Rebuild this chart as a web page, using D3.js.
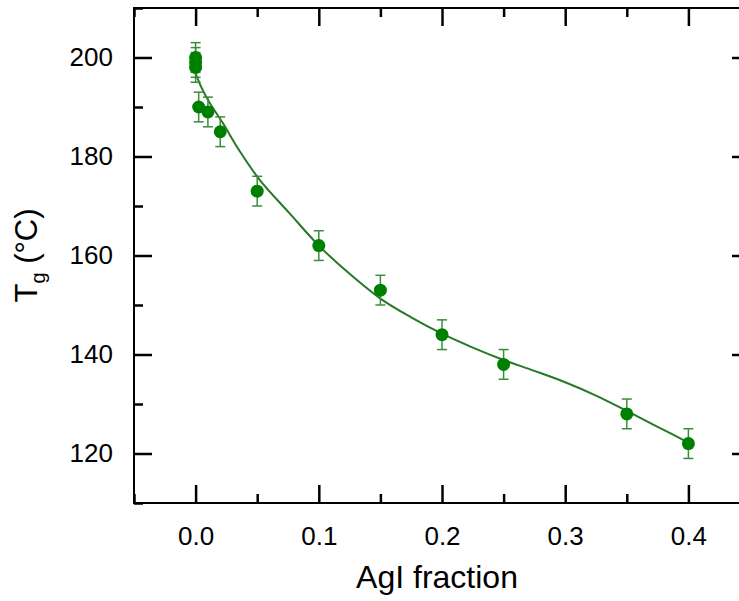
<!DOCTYPE html>
<html>
<head>
<meta charset="utf-8">
<script src="https://cdn.jsdelivr.net/npm/d3@7"></script>
<style>
	body { margin: 0; background: #fff; }
	svg { display: block; overflow: hidden; }
	text { font-family: "Liberation Sans", Arial, sans-serif; fill: #000; }
</style>
</head>
<body>
<svg></svg>
<script>
// measured points
var fraction = [0, 0, 0, 0.0025, 0.01, 0.02, 0.05, 0.1, 0.15, 0.2, 0.25, 0.35, 0.4];
var tg = [200, 199, 198, 190, 189, 185, 173, 162, 153, 144, 138, 128, 122];
var tgErr = [3, 3, 3, 3, 3, 3, 3, 3, 3, 3, 3, 3, 3];

// fitted curve
var fitX = [0, 0.005, 0.011, 0.022, 0.036, 0.052, 0.076, 0.1, 0.125, 0.15, 0.175, 0.2, 0.225, 0.25, 0.275, 0.3, 0.325, 0.35, 0.375, 0.4];
var fitY = [196.8, 193.8, 191, 186.8, 181, 175.3, 168.6, 162, 156.3, 151.3, 147.5, 144.2, 141.4, 138.9, 136.7, 134.4, 131.7, 128.6, 125.4, 122.2];

var xTicks = [0, 0.1, 0.2, 0.3, 0.4];
var xMinor = [-0.05, 0.05, 0.15, 0.25, 0.35, 0.45];
var yTicks = [120, 140, 160, 180, 200];
var yMinor = [110, 130, 150, 170, 190, 210];

var width = 739, height = 601;
var margins = { left: 134, right: -11, top: 8, bottom: 98 };
var w = width - margins.left - margins.right;
var h = height - margins.top - margins.bottom;

var svg = d3.select("svg")
	.attr("width", width)
	.attr("height", height);

var x = d3.scaleLinear().domain([-0.05, 0.45]).range([margins.left, margins.left + w]);
var y = d3.scaleLinear().domain([110, 210]).range([margins.top + h, margins.top]);

var x0 = margins.left, x1 = margins.left + w, y0 = margins.top, y1 = margins.top + h;

// frame
svg.append("rect")
	.attr("x", x0).attr("y", y0)
	.attr("width", w).attr("height", h)
	.attr("fill", "none")
	.attr("stroke", "#000")
	.attr("stroke-width", 2);

function styleAxis(g) {
	g.select(".domain").remove();
	g.selectAll(".tick line").attr("stroke", "#000").attr("stroke-width", 2.5);
	g.selectAll("text").style("font-size", "26px").attr("fill", "#000");
}

// bottom
svg.append("g")
	.attr("transform", "translate(0," + y1 + ")")
	.call(d3.axisBottom(x).tickValues(xTicks).tickFormat(d3.format(".1f")).tickSizeInner(-18).tickSizeOuter(0).tickPadding(24))
	.call(styleAxis);
svg.append("g")
	.attr("transform", "translate(0," + y1 + ")")
	.call(d3.axisBottom(x).tickValues(xMinor).tickFormat("").tickSizeInner(-9).tickSizeOuter(0))
	.call(styleAxis);
// top
svg.append("g")
	.attr("transform", "translate(0," + y0 + ")")
	.call(d3.axisTop(x).tickValues(xTicks).tickFormat("").tickSizeInner(-18).tickSizeOuter(0))
	.call(styleAxis);
svg.append("g")
	.attr("transform", "translate(0," + y0 + ")")
	.call(d3.axisTop(x).tickValues(xMinor).tickFormat("").tickSizeInner(-9).tickSizeOuter(0))
	.call(styleAxis);
// left
svg.append("g")
	.attr("transform", "translate(" + x0 + ",0)")
	.call(d3.axisLeft(y).tickValues(yTicks).tickSizeInner(-18).tickSizeOuter(0).tickPadding(21))
	.call(styleAxis);
svg.append("g")
	.attr("transform", "translate(" + x0 + ",0)")
	.call(d3.axisLeft(y).tickValues(yMinor).tickFormat("").tickSizeInner(-9).tickSizeOuter(0))
	.call(styleAxis);
// right
svg.append("g")
	.attr("transform", "translate(" + x1 + ",0)")
	.call(d3.axisRight(y).tickValues(yTicks).tickFormat("").tickSizeInner(-18).tickSizeOuter(0))
	.call(styleAxis);
svg.append("g")
	.attr("transform", "translate(" + x1 + ",0)")
	.call(d3.axisRight(y).tickValues(yMinor).tickFormat("").tickSizeInner(-9).tickSizeOuter(0))
	.call(styleAxis);

// fit line
var fit = fitX.map((d, i) => [d, fitY[i]]);
svg.append("path")
	.datum(fit)
	.attr("fill", "none")
	.attr("stroke", "#267a26")
	.attr("stroke-width", 2)
	.attr("d", d3.line().x(d => x(d[0])).y(d => y(d[1])).curve(d3.curveCatmullRom.alpha(0.5)));

var pts = fraction.map((d, i) => ({ x: d, y: tg[i], e: tgErr[i] }));

// error bars
var eb = svg.append("g").attr("stroke", "#3d8c3d").attr("stroke-width", 1.5);
eb.selectAll(".v").data(pts).enter().append("line")
	.attr("x1", d => x(d.x)).attr("x2", d => x(d.x))
	.attr("y1", d => y(d.y - d.e)).attr("y2", d => y(d.y + d.e));
eb.selectAll(".t").data(pts).enter().append("line")
	.attr("x1", d => x(d.x) - 5).attr("x2", d => x(d.x) + 5)
	.attr("y1", d => y(d.y + d.e)).attr("y2", d => y(d.y + d.e));
eb.selectAll(".b").data(pts).enter().append("line")
	.attr("x1", d => x(d.x) - 5).attr("x2", d => x(d.x) + 5)
	.attr("y1", d => y(d.y - d.e)).attr("y2", d => y(d.y - d.e));

// points
svg.selectAll("circle")
	.data(pts)
	.enter()
	.append("circle")
	.attr("cx", d => x(d.x))
	.attr("cy", d => y(d.y))
	.attr("r", 6.5)
	.attr("fill", "#008000");

// axis titles
svg.append("text")
	.attr("x", 437)
	.attr("y", 588)
	.attr("text-anchor", "middle")
	.style("font-size", "32px")
	.text("AgI fraction");

var yt = svg.append("text")
	.attr("transform", "translate(37," + (y0 + h / 2) + ") rotate(-90)")
	.attr("text-anchor", "middle")
	.style("font-size", "31px");
yt.append("tspan").text("T");
yt.append("tspan").attr("dy", 8).style("font-size", "20px").text("g");
yt.append("tspan").attr("dy", -8).text(" (°C)");
</script>
</body>
</html>
